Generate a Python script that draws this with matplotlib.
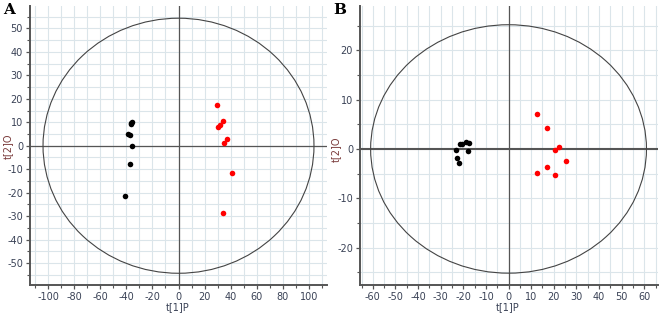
import matplotlib
matplotlib.use("Agg")
import matplotlib.pyplot as plt
from matplotlib.patches import Ellipse
from matplotlib.ticker import MultipleLocator

plt.rcParams["axes.unicode_minus"] = False

# Panel A data
a_black_x = [-36.8, -36.0, -36.4, -38.6, -37.6, -35.4, -37.0, -40.8]
a_black_y = [9.3, 9.9, 9.6, 5.2, 4.4, -0.3, -7.7, -21.5]
a_red_x = [29.7, 34.1, 32.0, 30.2, 36.9, 35.1, 41.2, 34.1]
a_red_y = [17.5, 10.7, 9.0, 8.0, 2.8, 1.3, -11.5, -28.8]
a_ellipse = (104.0, 54.3)  # semi-axes

# Panel B data
b_black_x = [-21.4, -20.4, -19.0, -17.4, -23.3, -18.0, -22.6, -22.0]
b_black_y = [1.1, 1.0, 1.5, 1.15, -0.2, -0.5, -1.8, -2.8]
b_red_x = [12.4, 17.2, 22.4, 20.4, 25.4, 16.8, 12.6, 20.4]
b_red_y = [7.0, 4.3, 0.35, -0.27, -2.4, -3.6, -4.9, -5.2]
b_ellipse = (61.0, 25.2)

xlabel = "t[1]P"
ylabel = "t[2]O"

W, H = 661, 313
fig = plt.figure(figsize=(W / 100, H / 100), dpi=100)
fig.patch.set_facecolor("white")

tick_col = "#3a4256"
grid_col = "#dbe5ea"
spine_col = "#555555"

def setup(ax, xlim, ylim, xmaj, xgrid, ymaj, ygrid, hzero_lw):
    ax.set_xlim(*xlim)
    ax.set_ylim(*ylim)
    ax.xaxis.set_major_locator(MultipleLocator(xmaj))
    ax.xaxis.set_minor_locator(MultipleLocator(xgrid))
    ax.yaxis.set_major_locator(MultipleLocator(ymaj))
    ax.yaxis.set_minor_locator(MultipleLocator(ygrid))
    ax.grid(True, which="both", color=grid_col, lw=0.8, zorder=0)
    ax.set_axisbelow(True)
    for s in ["top", "right"]:
        ax.spines[s].set_visible(False)
    for s in ["left", "bottom"]:
        ax.spines[s].set_color(spine_col)
        ax.spines[s].set_linewidth(1.4)
    ax.tick_params(which="major", length=3, width=0.9, color=spine_col,
                   labelsize=7, labelcolor=tick_col, pad=2)
    ax.tick_params(which="minor", length=2, width=0.8, color=spine_col)
    ax.axhline(0, color="#555555", lw=hzero_lw, zorder=1)
    ax.axvline(0, color="#555555", lw=0.9, zorder=1)

# Panel A
axA = fig.add_axes([30 / W, 1 - 285 / H, 297 / W, 279 / H])
setup(axA, (-114, 114), (-59.3, 59.5), 20, 10, 10, 5, 0.9)
axA.add_patch(Ellipse((0, 0), 2 * a_ellipse[0], 2 * a_ellipse[1], fill=False,
                      ec="#444444", lw=0.8, zorder=2))
axA.scatter(a_black_x, a_black_y, s=16, c="black", zorder=3, linewidths=0)
axA.scatter(a_red_x, a_red_y, s=16, c="#ff0000", zorder=3, linewidths=0)

# Panel B
axB = fig.add_axes([360 / W, 1 - 285 / H, 298 / W, 279 / H])
setup(axB, (-65.7, 66.1), (-27.6, 29.0), 10, 5, 10, 5, 1.5)
axB.add_patch(Ellipse((0, 0), 2 * b_ellipse[0], 2 * b_ellipse[1], fill=False,
                      ec="#444444", lw=0.8, zorder=2))
axB.scatter(b_black_x, b_black_y, s=16, c="black", zorder=3, linewidths=0)
axB.scatter(b_red_x, b_red_y, s=16, c="#ff0000", zorder=3, linewidths=0)

# axis labels
fig.text(178 / W, 1 - 307 / H, xlabel, fontsize=7, color=tick_col,
         ha="center", va="center")
fig.text(508 / W, 1 - 307 / H, xlabel, fontsize=7, color=tick_col,
         ha="center", va="center")
fig.text(8 / W, 1 - 146 / H, ylabel, fontsize=7, color="#7a3a3a",
         ha="center", va="center", rotation=90)
fig.text(336 / W, 1 - 149 / H, ylabel, fontsize=7, color="#7a3a3a",
         ha="center", va="center", rotation=90)

fig.text(3 / W, 1 - 3 / H, "A", fontsize=11, fontweight="bold",
         family="DejaVu Serif", va="top", ha="left")
fig.text(333 / W, 1 - 3 / H, "B", fontsize=11, fontweight="bold",
         family="DejaVu Serif", va="top", ha="left")

fig.savefig("out.png", dpi=100)
